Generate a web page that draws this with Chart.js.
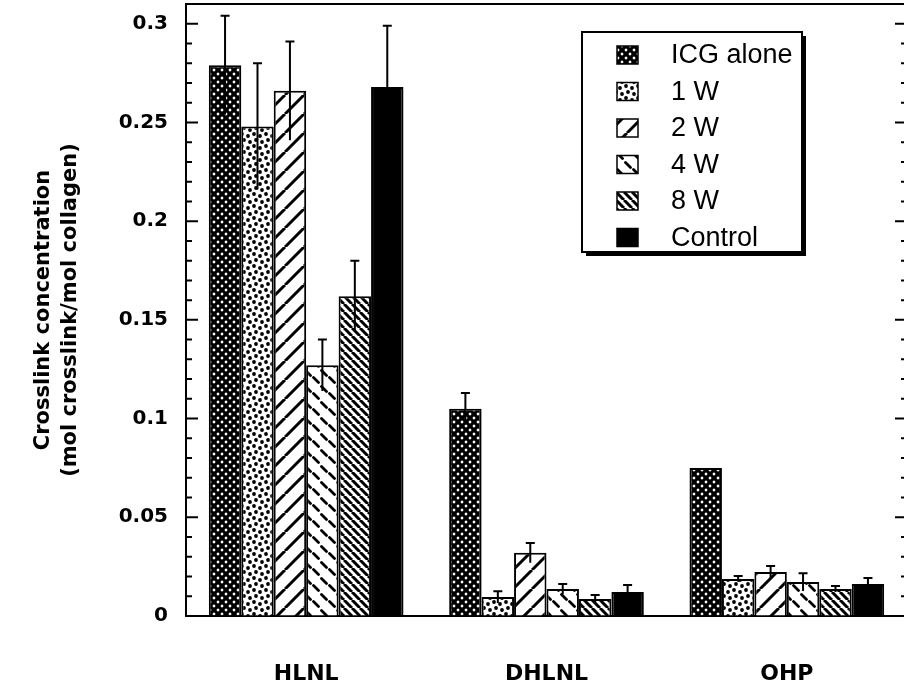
<!DOCTYPE html>
<html>
<head>
<meta charset="utf-8">
<script src="https://cdn.jsdelivr.net/npm/chart.js@4.4.1/dist/chart.umd.min.js"></script>
<style>
  html, body { margin: 0; padding: 0; background: #fff; overflow: hidden; }
  #wrap { width: 912px; height: 682px; position: relative; }
</style>
</head>
<body>
<div id="wrap"><canvas id="chart"></canvas></div>
<script>
const categories = ['HLNL', 'DHLNL', 'OHP'];
const seriesLabels = ['ICG alone', '1 W', '2 W', '4 W', '8 W', 'Control'];

const icgAlone = [0.279, 0.105, 0.075];
const oneW = [0.248, 0.0096, 0.0188];
const twoW = [0.266, 0.032, 0.0223];
const fourW = [0.127, 0.0137, 0.0172];
const eightW = [0.162, 0.0086, 0.0137];
const control = [0.268, 0.0122, 0.0162];

const icgAloneErr = [0.025, 0.008, 0];
const oneWErr = [0.032, 0.003, 0.0015];
const twoWErr = [0.025, 0.005, 0.003];
const fourWErr = [0.013, 0.0025, 0.0045];
const eightWErr = [0.018, 0.002, 0.0015];
const controlErr = [0.031, 0.0035, 0.003];

const yTitle = ['Crosslink concentration', '(mol crosslink/mol collagen)'];

function makePattern(w, h, draw) {
    const c = document.createElement('canvas');
    c.width = w;
    c.height = h;
    const g = c.getContext('2d');
    g.fillStyle = '#fff';
    g.fillRect(0, 0, w, h);
    g.fillStyle = '#000';
    g.strokeStyle = '#000';
    draw(g, w, h);
    return document.getElementById('chart').getContext('2d').createPattern(c, 'repeat');
}

// black crosshatch with small white diamonds
const crossHatch = makePattern(8, 8, g => {
    g.fillRect(0, 0, 8, 8);
    g.fillStyle = '#fff';
    [[2, 2], [6, 6]].forEach(([cx, cy]) => {
        g.beginPath();
        g.moveTo(cx, cy - 1.7); g.lineTo(cx + 1.7, cy); g.lineTo(cx, cy + 1.7); g.lineTo(cx - 1.7, cy);
        g.closePath();
        g.fill();
    });
});

const dots = makePattern(12, 12, g => {
    [[2, 2], [8, 4], [4, 8], [10, 10]].forEach(([x, y]) => {
        g.beginPath();
        g.arc(x, y, 1.9, 0, Math.PI * 2);
        g.fill();
    });
});

const wideSlash = makePattern(19, 19, g => {
    g.lineWidth = 3;
    g.beginPath();
    for (let k = -1; k <= 1; k++) {
        g.moveTo(k * 19, 19);
        g.lineTo(k * 19 + 19, 0);
    }
    g.stroke();
});

// short staggered dashes
const dashes = makePattern(16, 16, g => {
    g.lineWidth = 2.8;
    g.lineCap = 'round';
    g.beginPath();
    [[4, 5], [12, 12]].forEach(([cx, cy]) => {
        g.moveTo(cx - 2.5, cy - 2.5);
        g.lineTo(cx + 2.5, cy + 2.5);
    });
    g.stroke();
});

const backSlash = makePattern(8, 8, g => {
    g.lineWidth = 3;
    g.beginPath();
    for (let k = -1; k <= 1; k++) {
        g.moveTo(k * 8, 0);
        g.lineTo(k * 8 + 8, 8);
    }
    g.stroke();
});

const seriesValues = [icgAlone, oneW, twoW, fourW, eightW, control];
const seriesErrors = [icgAloneErr, oneWErr, twoWErr, fourWErr, eightWErr, controlErr];
const seriesFills = [crossHatch, dots, wideSlash, dashes, backSlash, '#000'];

const isMajor = v => Math.round(v * 100) % 5 === 0;

const errorBars = {
    id: 'errorBars',
    afterDatasetsDraw(chart) {
        const { ctx, scales: { y } } = chart;
        ctx.save();
        ctx.strokeStyle = '#000';
        ctx.lineWidth = 2;
        chart.data.datasets.forEach((ds, i) => {
            chart.getDatasetMeta(i).data.forEach((bar, j) => {
                const e = ds.errors[j];
                if (!e) return;
                const top = y.getPixelForValue(ds.data[j] + e);
                const bottom = y.getPixelForValue(ds.data[j] - e);
                ctx.beginPath();
                ctx.moveTo(bar.x, bottom);
                ctx.lineTo(bar.x, top);
                ctx.moveTo(bar.x - 4.5, top);
                ctx.lineTo(bar.x + 4.5, top);
                ctx.stroke();
            });
        });
        ctx.restore();
    }
};

const frame = {
    id: 'frame',
    afterDraw(chart) {
        const { ctx, chartArea: a, scales: { y } } = chart;
        ctx.save();
        ctx.strokeStyle = '#000';
        ctx.lineWidth = 2;
        ctx.beginPath();
        ctx.moveTo(a.left, a.top);
        ctx.lineTo(a.right, a.top);
        ctx.lineTo(a.right, a.bottom);
        y.ticks.forEach(t => {
            const py = y.getPixelForValue(t.value);
            const len = isMajor(t.value) ? 12 : 6;
            ctx.moveTo(a.left, py);
            ctx.lineTo(a.left + len, py);
            ctx.moveTo(a.right, py);
            ctx.lineTo(a.right - len, py);
        });
        ctx.stroke();
        ctx.restore();
    }
};

const boxLegend = {
    id: 'boxLegend',
    afterDraw(chart, args, opts) {
        const { ctx } = chart;
        const { x, y, w, h } = opts;
        ctx.save();
        ctx.fillStyle = '#000';
        ctx.fillRect(x + 4, y + 4, w, h);
        ctx.fillStyle = '#fff';
        ctx.fillRect(x, y, w, h);
        ctx.strokeStyle = '#000';
        ctx.lineWidth = 2;
        ctx.strokeRect(x, y, w, h);
        ctx.font = '27px "Liberation Sans"';
        ctx.textBaseline = 'middle';
        chart.data.datasets.forEach((ds, i) => {
            const cy = y + 23 + i * 36.5;
            ctx.fillStyle = ds.backgroundColor;
            ctx.fillRect(x + 35, cy - 9, 21, 18);
            ctx.lineWidth = 1.5;
            ctx.strokeRect(x + 35, cy - 9, 21, 18);
            ctx.fillStyle = '#000';
            ctx.fillText(ds.label, x + 89, cy + 1);
        });
        ctx.restore();
    }
};

new Chart(document.getElementById('chart'), {
    type: 'bar',
    data: {
        labels: categories,
        datasets: seriesLabels.map((label, i) => ({
            label,
            data: seriesValues[i],
            errors: seriesErrors[i],
            backgroundColor: seriesFills[i],
            borderColor: '#000',
            borderWidth: 2,
            categoryPercentage: 0.81,
            barPercentage: 1.0
        }))
    },
    options: {
        responsive: true,
        maintainAspectRatio: false,
        animation: false,
        layout: { padding: { top: 4, right: 5, left: 0, bottom: 0 } },
        plugins: {
            legend: { display: false },
            tooltip: { enabled: false },
            boxLegend: { x: 582, y: 32, w: 220, h: 220 }
        },
        scales: {
            x: {
                grid: { display: false },
                border: { display: true, color: '#000', width: 2 },
                ticks: {
                    color: '#000',
                    padding: 37,
                    font: { family: '"DejaVu Sans"', weight: 'bold', size: 22 }
                },
                afterFit(scale) {
                    scale.height = 66;
                    scale.paddingLeft = 0;
                    scale.paddingRight = 0;
                }
            },
            y: {
                min: 0,
                max: 0.31,
                grid: { drawOnChartArea: false, drawTicks: false },
                border: { display: true, color: '#000', width: 2 },
                ticks: {
                    stepSize: 0.01,
                    autoSkip: false,
                    color: '#000',
                    padding: 18,
                    font: { family: '"DejaVu Sans"', weight: 'bold', size: 20 },
                    callback: v => isMajor(v) ? String(Math.round(v * 100) / 100) : ''
                },
                title: {
                    display: true,
                    text: yTitle,
                    color: '#000',
                    padding: { top: 31, bottom: 0 },
                    font: { family: '"DejaVu Sans"', weight: 'bold', size: 21, lineHeight: 1.24 }
                },
                afterFit(scale) {
                    scale.width = 186;
                    scale.paddingTop = 0;
                    scale.paddingBottom = 0;
                }
            }
        }
    },
    plugins: [errorBars, frame, boxLegend]
});
</script>
</body>
</html>
